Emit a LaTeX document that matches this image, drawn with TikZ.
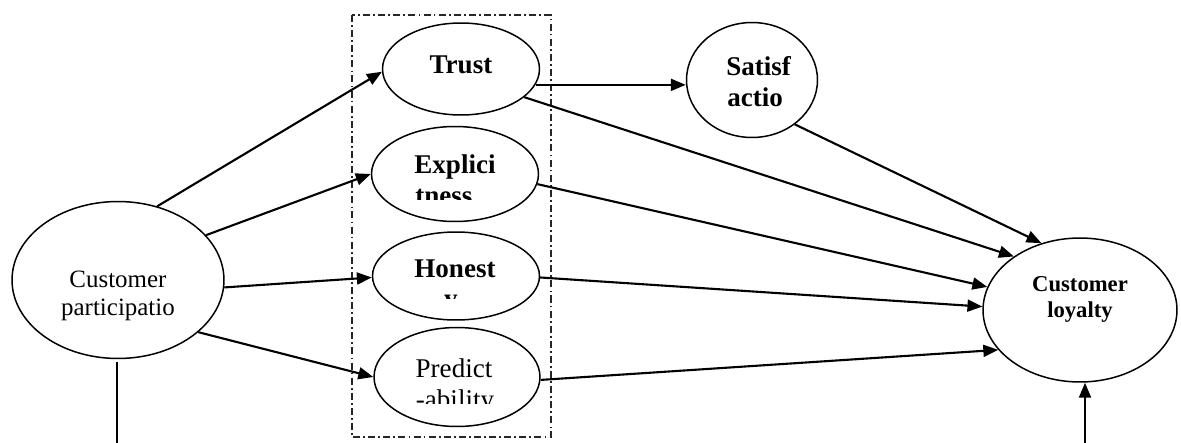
\documentclass[tikz,border=0pt]{standalone}
\usepackage{fontspec}
\setmainfont{Liberation Serif}
\usetikzlibrary{arrows.meta,shapes.geometric}
\begin{document}
\begin{tikzpicture}[x=0.02cm,y=-0.02cm,
  oval/.style={draw, ellipse, line width=0.85pt, inner sep=0pt},
  conn/.style={line width=1.2pt, -{Triangle[length=8.5pt,width=6.8pt]}},
  plainline/.style={line width=1.2pt},
  txt/.style={anchor=base, inner sep=0pt},
  bigbold/.style={font=\fontsize{15.4}{17}\selectfont\bfseries},
  bigreg/.style={font=\fontsize{15.4}{17}\selectfont},
  cpfont/.style={font=\fontsize{14.2}{16}\selectfont},
  loyfont/.style={font=\fontsize{12.9}{15}\selectfont\bfseries},
  dashdotbox/.style={draw=black!85, line width=0.6pt, dash pattern=on 4pt off 1.8pt on 1pt off 1.8pt}]
\useasboundingbox (0,0) rectangle (1181,443);

% group box
\draw[dashdotbox] (352,15) rectangle (551,437);

% ellipses
\node[oval, minimum width=4.24cm, minimum height=3.14cm] (cp) at (118,280) {};
\node[oval, minimum width=3.14cm, minimum height=1.84cm] (trust) at (461,69) {};
\node[oval, minimum width=3.34cm, minimum height=1.90cm] (expl) at (455,174) {};
\node[oval, minimum width=3.34cm, minimum height=1.76cm] (hon) at (456,276) {};
\node[oval, minimum width=3.32cm, minimum height=1.98cm] (pred) at (457,377) {};
\node[oval, minimum width=2.62cm, minimum height=2.30cm] (sat) at (752,80) {};
\node[oval, minimum width=3.88cm, minimum height=2.88cm] (loy) at (1080,310) {};

% texts
\node[txt, cpfont] (cpt1) at (118,287) {Customer};
\node[txt, cpfont] (cpt2) at (118,315) {participatio};
\node[txt, bigbold] (trt) at (461,73) {Trust};
\node[txt, bigbold] (ext1) at (455,173) {Explici};
\begin{scope}
  \clip (380,180) rectangle (530,199);
  \node[txt, bigbold, anchor=base west] (ext2) at (415,204) {tness};
\end{scope}
\node[txt, bigbold] (hot1) at (455,277) {Honest};
\begin{scope}
  \clip (380,285) rectangle (530,298);
  \node[txt, bigbold] (hot2) at (451,307) {y};
\end{scope}
\node[txt, bigreg] (prt1) at (454,377) {Predict};
\begin{scope}
  \clip (380,385) rectangle (530,403);
  \node[txt, bigreg] (prt2) at (455,408) {-ability};
\end{scope}
\node[txt, bigbold, anchor=base west] (sat1) at (726,75) {Satisf};
\node[txt, bigbold, anchor=base west] (sat2) at (727,106) {actio};
\node[txt, loyfont] (loy1) at (1080,291) {Customer};
\node[txt, loyfont] (loy2) at (1080,317) {loyalty};

% connectors
\draw[conn] (cp.62) -- (trust.182);
\draw[conn] (cp.27) -- (expl.180);
\draw[conn] (cp.-4) -- (hon.181);
\draw[conn] (cp.-33) -- (pred.180);
\draw[conn] (trust.-12) -- (trust.-12 -| sat.west);
\draw[conn] (trust.-24) -- (loy.141);
\draw[conn] (sat.-46) -- (loy.120);
\draw[conn] (expl.-7) -- (loy.166);
\draw[conn] (hon.-1) -- (loy.178);
\draw[conn] (pred.-2) -- (loy.206);

% lines to the bottom edge
\coordinate (cpend) at (117,443);
\draw[plainline, shorten <=1.5pt] (cpend |- cp.south) -- (cpend);
\coordinate (loyin) at (1085,443);
\draw[conn] (loyin) -- (loyin |- loy.south);
\end{tikzpicture}
\end{document}
